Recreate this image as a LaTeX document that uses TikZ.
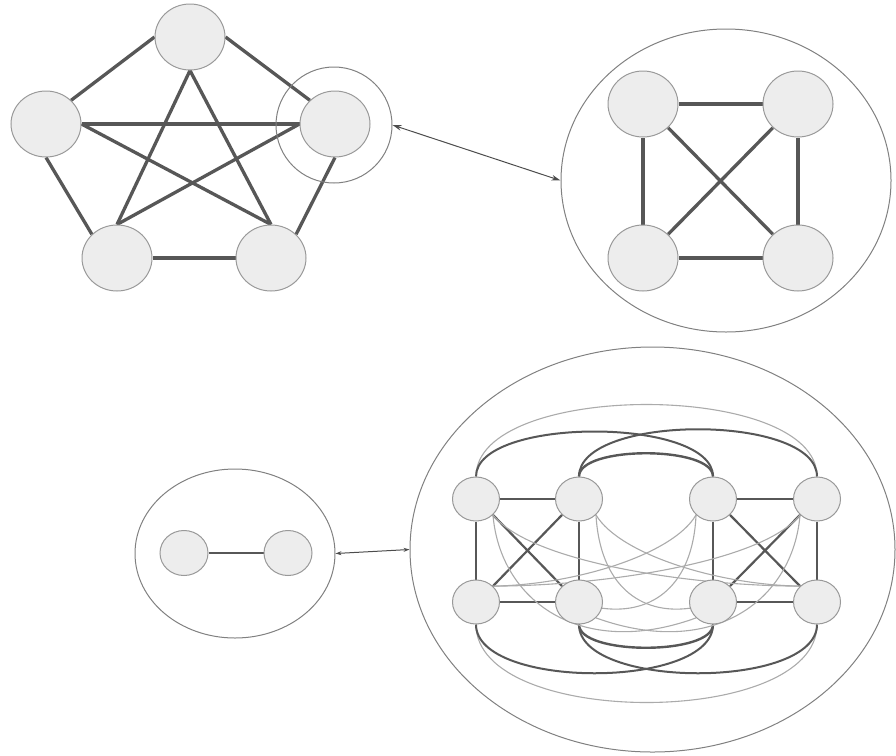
\documentclass[tikz,border=0pt]{standalone}
\usetikzlibrary{shapes.geometric,arrows.meta,backgrounds}
\begin{document}
\begin{tikzpicture}[x=1pt,y=-1pt,
  vtx/.style={ellipse,draw=black!40,line width=1pt,fill=black!7,inner sep=0pt},
  bigvtx/.style={vtx,minimum width=70pt,minimum height=66pt},
  midvtx/.style={vtx,minimum width=48pt,minimum height=45pt},
  smallvtx/.style={vtx,minimum width=47pt,minimum height=44pt},
  heavy/.style={draw=black!66,line width=3.3pt},
  medium/.style={draw=black!66,line width=2.2pt},
  faint/.style={draw=black!33,line width=1.1pt},
  hull/.style={ellipse,draw=black!50,line width=1pt,inner sep=0pt},
  link/.style={draw=black!70,line width=1pt}
]
\useasboundingbox (0,0) rectangle (896,755);

% ---- complete graph on five vertices
\node[bigvtx] (p1) at (190,37) {};
\node[bigvtx] (p2) at (46,124) {};
\node[bigvtx] (p3) at (335,124) {};
\node[bigvtx] (p4) at (117,258) {};
\node[bigvtx] (p5) at (271,258) {};
\node[circle,draw=black!50,line width=1pt,minimum size=116pt,inner sep=0pt] (ring) at (334,125) {};

% ---- complete graph on four vertices inside its hull
\node[hull,minimum width=330pt,minimum height=303pt] (hullA) at (726,180.5) {};
\node[bigvtx] (q1) at (643,104) {};
\node[bigvtx] (q2) at (798,104) {};
\node[bigvtx] (q3) at (643,258) {};
\node[bigvtx] (q4) at (798,258) {};

% ---- single edge inside its hull
\node[hull,minimum width=200pt,minimum height=169pt] (hullB) at (235,553.5) {};
\node[midvtx] (r1) at (184,553) {};
\node[midvtx] (r2) at (288,553) {};

% ---- two joined copies of K4 inside the large hull
\node[hull,minimum width=485pt,minimum height=405pt] (hullC) at (652.5,549.5) {};
\node[smallvtx] (a1) at (476,499) {};
\node[smallvtx] (a2) at (579,499) {};
\node[smallvtx] (a3) at (713,499) {};
\node[smallvtx] (a4) at (817,499) {};
\node[smallvtx] (b1) at (476,602) {};
\node[smallvtx] (b2) at (579,602) {};
\node[smallvtx] (b3) at (713,602) {};
\node[smallvtx] (b4) at (817,602) {};

\begin{scope}[on background layer]
  % K5 edges
  \draw[heavy] (p1.west) -- (p2.north east);
  \draw[heavy] (p1.east) -- (p3.north west);
  \draw[heavy] (p2.south) -- (p4.north west);
  \draw[heavy] (p3.south) -- (p5.north east);
  \draw[heavy] (p4.east) -- (p5.west);
  \draw[heavy] (p2.east) -- (p3.west);
  \draw[heavy] (p1.south) -- (p4.north);
  \draw[heavy] (p1.south) -- (p5.north);
  \draw[heavy] (p2.east) -- (p5.north);
  \draw[heavy] (p3.west) -- (p4.north);

  % K4 edges
  \draw[heavy] (q1.east) -- (q2.west);
  \draw[heavy] (q1.south) -- (q3.north);
  \draw[heavy] (q2.south) -- (q4.north);
  \draw[heavy] (q3.east) -- (q4.west);
  \draw[heavy] (q1.south east) -- (q4.north west);
  \draw[heavy] (q2.south west) -- (q3.north east);

  % K2 edge
  \draw[medium] (r1.east) -- (r2.west);

  % left and right K4
  \draw[medium] (a1.east) -- (a2.west);
  \draw[medium] (a1.south) -- (b1.north);
  \draw[medium] (a2.south) -- (b2.north);
  \draw[medium] (b1.east) -- (b2.west);
  \draw[medium] (a1.south east) -- (b2.north west);
  \draw[medium] (a2.south west) -- (b1.north east);
  \draw[medium] (a3.east) -- (a4.west);
  \draw[medium] (a3.south) -- (b3.north);
  \draw[medium] (a4.south) -- (b4.north);
  \draw[medium] (b3.east) -- (b4.west);
  \draw[medium] (a3.south east) -- (b4.north west);
  \draw[medium] (a4.south west) -- (b3.north east);

  % arcs over the top row
  \draw[faint] (a1.north) .. controls +(0,-96) and +(0,-96) .. (a4.north);
  \draw[medium,line width=2pt] (a1.north) .. controls +(0,-60) and +(0,-60) .. (a3.north);
  \draw[medium,line width=2pt] (a2.north) .. controls +(0,-63) and +(0,-63) .. (a4.north);
  \draw[medium,line width=2.4pt] (a2.north) .. controls +(0,-31) and +(0,-31) .. (a3.north);

  % arcs under the bottom row
  \draw[faint] (b1.south) .. controls +(0,104) and +(0,104) .. (b4.south);
  \draw[medium,line width=2pt] (b1.south) .. controls +(0,65) and +(0,65) .. (b3.south);
  \draw[medium,line width=2pt] (b2.south) .. controls +(0,65) and +(0,65) .. (b4.south);
  \draw[medium,line width=2.4pt] (b2.south) .. controls +(0,31) and +(0,31) .. (b3.south);

  % diagonal links between the two halves
  \draw[faint] (a1.south east) .. controls (530,562) and (690,586) .. (b4.north west);
  \draw[faint] (a4.south west) .. controls (763,562) and (603,586) .. (b1.north east);
  \draw[faint] (a2.south east) .. controls (620,555) and (720,585) .. (b4.north west);
  \draw[faint] (a3.south west) .. controls (673,555) and (573,585) .. (b1.north east);
  \draw[faint] (a1.south east) .. controls (500,600) and (580,660) .. (b3.south west);
  \draw[faint] (a4.south west) .. controls (793,600) and (713,660) .. (b2.south east);
  \draw[faint] (a2.south east) .. controls (600,585) and (640,615) .. (b3.195);
  \draw[faint] (a3.south west) .. controls (693,585) and (653,615) .. (b2.345);
\end{scope}

% correspondence arrows
\draw[link,{Stealth[length=9pt,width=5.5pt]}-{Stealth[length=9pt,width=5.5pt]}] (ring.east) -- (hullA.west);
\draw[link,{Stealth[length=6pt,width=4pt]}-{Stealth[length=6pt,width=4pt]}] (hullB.east) -- (hullC.west);
\end{tikzpicture}
\end{document}
